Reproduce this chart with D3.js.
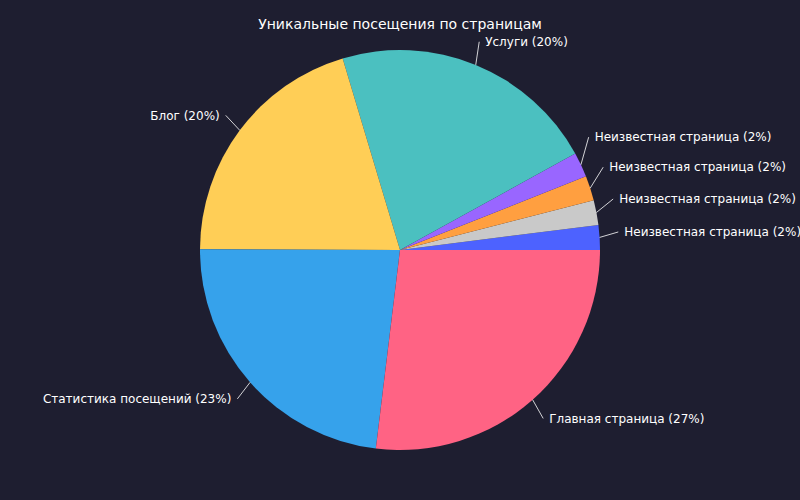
<!DOCTYPE html><html><head><meta charset="utf-8"><script src="https://cdn.jsdelivr.net/npm/d3@7"></script>
<style>body{margin:0;background:#1e1e30}</style></head><body><svg id="c" width="800" height="500"></svg>
<script>
const labels=["Неизвестная страница","Неизвестная страница","Неизвестная страница","Неизвестная страница","Услуги","Блог","Статистика посещений","Главная страница"];
const values=[2,2,2,2,21.6,20.3,23.1,26.9];
const pctText=["2%","2%","2%","2%","20%","20%","23%","27%"];
const colors=["#4d62ff","#c9c9c9","#ff9f40","#9966ff","#4bc0c0","#ffce56","#36a2eb","#ff6384"];
const title="Уникальные посещения по страницам";
const svg=d3.select("#c");
svg.append("rect").attr("width",800).attr("height",500).attr("fill","#1e1e30");
const cx=400,cy=250,R=200;
const g=svg.append("g").attr("transform",`translate(${cx},${cy})`);
// counterclockwise from 3 o'clock: d3 angle 0 = 12 o'clock clockwise -> map
const pie=d3.pie().sort(null).value(d=>d).startAngle(Math.PI/2).endAngle(Math.PI/2-2*Math.PI);
const arcs=pie(values);
const arc=d3.arc().innerRadius(0).outerRadius(R);
g.selectAll("path").data(arcs).join("path").attr("d",arc).attr("fill",(d,i)=>colors[i]);
// label angles in math convention (deg, ccw from +x)
let ang=arcs.map(a=>{const m=(a.startAngle+a.endAngle)/2;return 90-m*180/Math.PI;});
ang=ang.map(a=>((a%360)+360)%360);
// spread right-side small labels
const minSep=8.5;
for(let i=0;i<4;i++){}
let base=4.6;for(let i=0;i<4;i++){ang[i]=Math.max(ang[i],i===0?ang[0]:ang[i-1]+minSep);}
ang[0]=Math.max(ang[0],4.6);for(let i=1;i<4;i++)ang[i]=Math.max(ang[i],ang[i-1]+minSep);
arcs.forEach((a,i)=>{
  const m=(a.startAngle+a.endAngle)/2;const ma=(90-m*180/Math.PI)*Math.PI/180;
  const la=ang[i]*Math.PI/180;
  const x0=R*Math.cos(ma),y0=-R*Math.sin(ma);
  const rl=225;const x1=rl*Math.cos(la),y1=-rl*Math.sin(la);
  const right=Math.cos(la)>=0;
  const x2=x1+(right?-6:6);
  g.append("line").attr("x1",x0).attr("y1",y0).attr("x2",x2).attr("y2",y1).attr("stroke","#fff").attr("stroke-width",0.8);
  g.append("text").attr("x",x1).attr("y",y1).attr("dy","0.35em").attr("text-anchor",right?"start":"end")
   .attr("fill","#fff").attr("font-family","DejaVu Sans").attr("font-size",12).text(`${labels[i]} (${pctText[i]})`);
});
svg.append("text").attr("x",400).attr("y",29).attr("text-anchor","middle").attr("fill","#fff").attr("font-family","DejaVu Sans").attr("font-size",14).text(title);
</script></body></html>
